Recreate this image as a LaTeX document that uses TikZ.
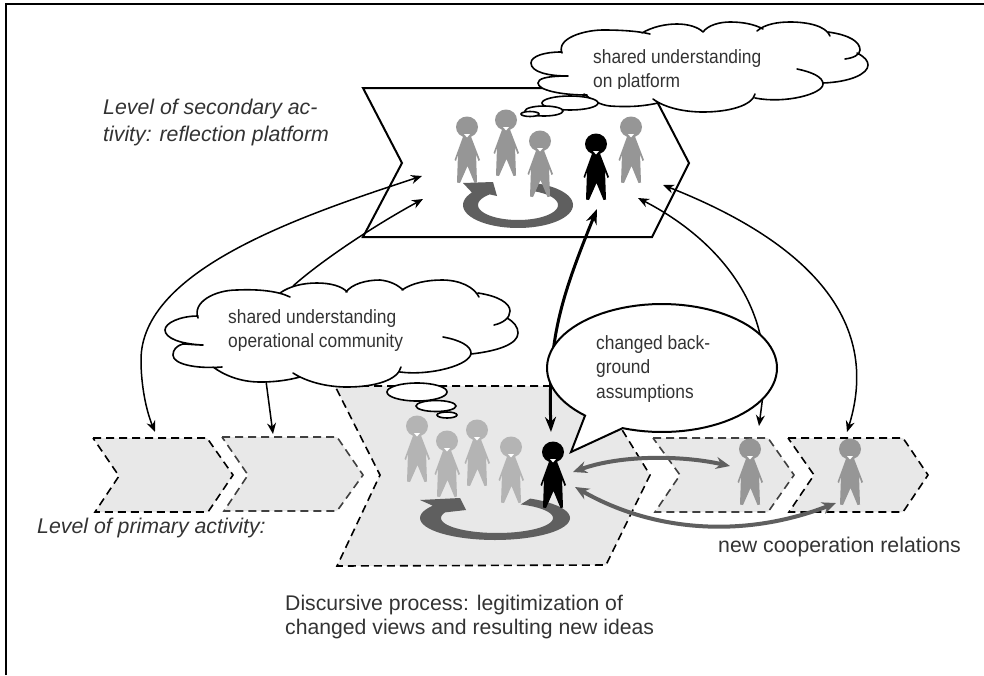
\documentclass[tikz,border=0pt]{standalone}
\usepackage{fontspec}
\setmainfont{Liberation Sans}
\newfontfamily\condfont[FakeStretch=0.905]{Liberation Sans}
\usetikzlibrary{arrows.meta}
\definecolor{pgrey}{HTML}{969696}
\definecolor{plight}{HTML}{B4B4B4}
\definecolor{ringc}{HTML}{5F5F5F}
\definecolor{chevfill}{HTML}{E8E8E8}
\definecolor{txt}{HTML}{333333}
\newcommand\figperson[3]{%
  \fill[#3,shift={(#1,#2)}] (0,0) ellipse[x radius=11,y radius=10.5];
  \fill[#3,shift={(#1,#2)}] (-3,7) -- (-12.5,33) -- (-11,34) -- (-9,27) -- (-10,55.5) -- (-7,56) -- (0.5,39) -- (7.5,56) -- (10,55.5) -- (9,27) -- (11.5,34) -- (13,33) -- (3,7) -- cycle;
  \fill[white,shift={(#1,#2)}] (-3,7) -- (3,7) -- (0,10.5) -- cycle;
}
\newcommand\cloudA[1]{%
 (562,53) .. controls (556,38) and (585,30) .. (603,30) .. controls (620,30) and (638,31) .. (650,34) #1
 (642,33) .. controls (652,27) and (665,24) .. (677,24) .. controls (688,24) and (698,27) .. (703,32) #1
 (703,32) .. controls (708,25) and (720,22) .. (730,22) .. controls (742,22) and (754,24) .. (763,29) #1
 (757,31) .. controls (765,24) and (778,22) .. (790,22) .. controls (808,22) and (826,26) .. (830,36) #1
 (828,32) .. controls (850,35) and (860,42) .. (860,50) .. controls (860,55) and (853,58) .. (845,59) #1
 (857,53) .. controls (865,57) and (868,61) .. (868,65) .. controls (868,74) and (850,82) .. (823,83) #1
 (797,69) .. controls (812,72) and (823,77) .. (823,84) .. controls (823,94) and (785,104) .. (755,98) #1
 (755,94) .. controls (752,106) and (728,112) .. (703,112) .. controls (685,112) and (665,108) .. (653,99) #1
 (658,103) .. controls (640,107) and (625,107) .. (610,106) .. controls (600,105) and (592,100) .. (584,94) #1
 (587,95) .. controls (560,95) and (538,90) .. (538,83) .. controls (538,79) and (545,76) .. (568,76) #1
 (568,76) .. controls (548,76) and (531,72) .. (531,63) .. controls (531,56) and (545,52) .. (561,52)}
\newcommand\cloudB[1]{%
 (198,318) .. controls (192,302) and (215,290) .. (237,290) .. controls (258,289) and (278,291) .. (290,297) #1
 (280,293) .. controls (290,286) and (303,283) .. (317,283) .. controls (330,283) and (342,286) .. (347,292) #1
 (346,292) .. controls (352,284) and (366,280) .. (380,280) .. controls (390,281) and (398,285) .. (403,290) #1
 (402,290) .. controls (412,283) and (427,280) .. (442,280) .. controls (460,280) and (474,287) .. (479,297) #1
 (478,293) .. controls (498,296) and (510,303) .. (510,311) .. controls (510,318) and (503,323) .. (494,325) #1
 (507,318) .. controls (514,322) and (518,327) .. (518,333) .. controls (518,344) and (498,351) .. (471,354) #1
 (443,337) .. controls (460,340) and (471,346) .. (471,353) .. controls (471,365) and (430,376) .. (400,372) #1
 (401,367) .. controls (398,380) and (375,387) .. (347,387) .. controls (327,387) and (307,382) .. (293,373) #1
 (300,377) .. controls (285,381) and (272,382) .. (260,382) .. controls (240,382) and (224,375) .. (213,367) #1
 (222,367) .. controls (195,369) and (173,364) .. (173,355) .. controls (173,350) and (176,346) .. (183,344) .. controls (188,344) and (195,345) .. (203,345) #1
 (203,345) .. controls (180,344) and (165,338) .. (165,330) .. controls (165,323) and (180,316) .. (198,316)}
\tikzset{
 lbl/.style={text=txt,font=\condfont\fontsize{19.2}{24.5}\selectfont,align=left,inner sep=0pt,anchor=north west},
 biglbl/.style={lbl,font=\fontsize{21.3}{27}\selectfont\itshape},
 chevsolid/.style={draw=black,line width=2pt,line join=miter,fill=white},
 chevdash/.style={fill=chevfill,draw=#1,line width=1.6pt,dash pattern=on 8pt off 5pt},
 thin arrow/.style={draw=black,line width=1.5pt},
 thin tip/.style={-{Stealth[length=11pt,width=9pt]}},
 thin both/.style={{Stealth[length=11pt,width=9pt]}-{Stealth[length=11pt,width=9pt]}},
 bold both/.style={line width=3pt,{Stealth[length=15pt,width=11pt]}-{Stealth[length=15pt,width=11pt]}},
 grey both/.style={draw=ringc,line width=4pt,{Stealth[length=14pt,width=12pt]}-{Stealth[length=14pt,width=12pt]}},
 cloudline/.style={draw=black,line width=1.6pt,line cap=round},
 puff/.style={draw=black,line width=1.6pt,fill=white},
}
\begin{document}
\begin{tikzpicture}[x=1pt,y=-1pt]
\useasboundingbox (0,0) rectangle (984,675);
\fill[white] (0,0) rectangle (984,675);
\draw[line width=2pt] (6,675) -- (6,4) -- (984,4);
% upper chevron
\path[chevsolid] (363,88) -- (650,88) -- (689,163) -- (652,237) -- (363,237) -- (402,163) -- cycle;
% upper ring
\fill[ringc] plot[domain=-70:213,samples=50] ({518+55*cos(\x)},{205+23*sin(\x)}) -- (463,183) -- (493,182) -- (497,196) -- plot[domain=225:-70,samples=50] ({518+40*cos(\x)},{205+15*sin(\x)}) -- cycle;
\figperson{467}{127}{pgrey}
\figperson{506}{120}{pgrey}
\figperson{540}{141}{pgrey}
\figperson{596}{144}{black}
\figperson{631}{127}{pgrey}
% lower chevrons
\path[chevdash=black] (93,438) -- (207,438) -- (233,475) -- (208,512) -- (95,512) -- (119,476) -- cycle;
\path[chevdash=black!75] (222,437) -- (337,437) -- (363,475) -- (337,511) -- (224,511) -- (248,475) -- cycle;
\path[chevdash=black!75] (653,438) -- (768,438) -- (794,475) -- (768,512) -- (655,512) -- (680,475) -- cycle;
\path[chevdash=black] (788,438) -- (903,438) -- (928,475) -- (903,512) -- (789,512) -- (814,475) -- cycle;
\path[chevdash=black] (335,386) -- (595,386) -- (650,475) -- (606,565) -- (337,566) -- (380,475) -- cycle;
% lower ring
\fill[ringc] plot[domain=-62:214,samples=50] ({495+75*cos(\x)},{518+22*sin(\x)}) -- (420,500) -- (460,498) -- (466,510) -- plot[domain=202:-65,samples=50] ({497+56*cos(\x)},{518+15*sin(\x)}) -- cycle;
\figperson{417}{426}{plight}
\figperson{447}{441}{plight}
\figperson{477}{430}{plight}
\figperson{511}{447}{plight}
\figperson{553}{452}{black}
\figperson{750}{449}{pgrey}
\figperson{850}{449}{pgrey}
% connector ends
\coordinate (platL1) at (422,176);
\coordinate (platL2) at (423,199);
\coordinate (platM) at (597,209);
\coordinate (platR1) at (638,198);
\coordinate (platR2) at (663,185);
\coordinate (chev1) at (155,432);
\coordinate (chev2) at (273,434);
\coordinate (chev3) at (759,426);
\coordinate (chev4) at (847,432);
\coordinate (cloudTop) at (293,286);
\coordinate (cloudBot) at (266,381);
\coordinate (actor) at (551,432);
\coordinate (gA) at (573,472);
\coordinate (gB) at (730,466);
\coordinate (gC) at (575,487);
\coordinate (gD) at (836,503);
% connectors
\draw[thin arrow,thin both] (platL1) .. controls (300,216) and (141,270) .. (141,360) .. controls (141,385) and (146,410) .. (chev1);
\draw[thin arrow,thin tip] (cloudTop) .. controls (320,262) and (370,228) .. (platL2);
\draw[thin arrow,thin tip] (cloudBot) -- (chev2);
\draw[thin arrow,thin both] (platR1) .. controls (710,235) and (775,300) .. (763,395) -- (chev3);
\draw[thin arrow,thin both] (platR2) .. controls (790,235) and (885,310) .. (chev4);
\draw[bold both] (actor) .. controls (548,340) and (560,300) .. (platM);
\draw[grey both] (gA) .. controls (620,455) and (680,455) .. (gB);
\draw[grey both] (gC) .. controls (650,530) and (740,540) .. (gD);
% clouds
\path[fill=white] \cloudA{--} -- cycle;
\draw[cloudline] \cloudA{};
\draw[puff] (570,103) ellipse[x radius=28,y radius=7];
\draw[puff] (544,111) ellipse[x radius=19,y radius=5];
\draw[puff] (530,114) ellipse[x radius=9,y radius=2.5];
\path[fill=white] \cloudB{--} -- cycle;
\draw[cloudline] \cloudB{};
\draw[puff] (417,392) ellipse[x radius=30,y radius=9];
\draw[puff] (436,406) ellipse[x radius=20,y radius=5.5];
\draw[puff] (447,415) ellipse[x radius=10,y radius=3];
% speech bubble
\draw[puff,line width=2pt,line join=miter] (571,452) -- plot[domain=110:-228,samples=90] ({662+115*cos(\x)},{368+64*sin(\x)}) -- cycle;
% labels
\begin{scope}
\clip (580,40) rectangle (800,88);
\node[lbl] (tPlat) at (593,49) {shared understanding\\on platform};
\end{scope}
\node[lbl] (tOper) at (228,309) {shared understanding\\operational community};
\node[lbl] (tBubble) at (596,335) {changed back-\\ground\\assumptions};
\node[biglbl] (tSec) at (103,98.5) {Level of secondary ac-\\tivity: reflection platform};
\node[biglbl] (tPrim) at (37,517.5) {Level of primary activity:};
\node[lbl,font=\fontsize{21.3}{27}\selectfont] (tCoop) at (718,536.5) {new cooperation relations};
\node[lbl,font=\fontsize{21.2}{24}\selectfont] (tDisc) at (285,594.5) {Discursive process: legitimization of\\changed views and resulting new ideas};
\end{tikzpicture}
\end{document}
